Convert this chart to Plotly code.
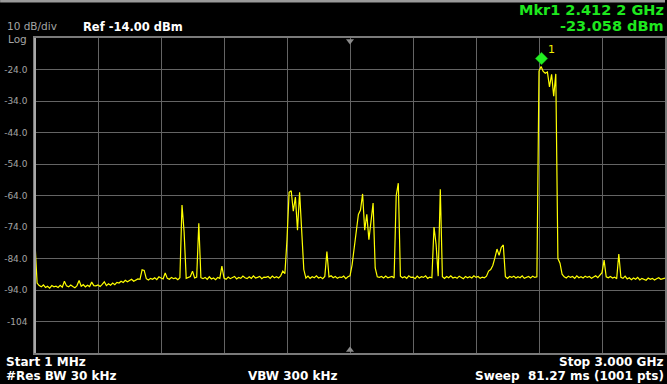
import numpy as np
import plotly.graph_objects as go

# ---------------- data ----------------
start_mhz = 1.0
stop_mhz = 3000.0
ref_level_dbm = -14.0
db_per_div = 10.0
n_div = 10

# trace levels (dBm), 301 points evenly spaced from 1 MHz to 3000 MHz (rows = 100 MHz)
level_dbm = [
    -79.0, -91.8, -92.6, -93.0, -92.4, -93.2, -92.8, -93.4, -92.6, -93.0,
    -92.8, -93.2, -92.5, -93.1, -91.2, -92.7, -93.0, -92.4, -92.9, -93.3,
    -92.6, -91.0, -92.8, -92.3, -93.0, -92.5, -92.9, -91.5, -92.6, -92.7,
    -92.4, -92.9, -92.2, -91.4, -92.6, -92.0, -92.5, -91.8, -92.3, -91.6,
    -91.8, -91.2, -91.6, -90.9, -91.4, -91.0, -90.6, -91.2, -90.8, -90.5,
    -90.6, -87.6, -87.8, -90.4, -90.8, -90.3, -90.6, -90.1, -90.7, -89.8,
    -90.2, -90.5, -88.6, -90.3, -90.6, -90.0, -90.4, -90.2, -90.7, -90.1,
    -67.0, -75.5, -90.3, -90.0, -89.7, -88.0, -90.2, -89.9, -72.8, -90.1,
    -90.4, -90.0, -90.6, -89.8, -90.5, -90.2, -90.7, -90.0, -90.3, -86.4,
    -90.2, -90.6, -89.9, -90.4, -90.1, -89.7, -90.5, -90.0, -90.3, -89.6,
    -90.1, -90.4, -89.8, -90.3, -89.5, -90.2, -90.0, -89.7, -90.4, -89.9,
    -90.0, -89.7, -90.3, -89.6, -90.1, -89.8, -90.2, -89.5, -88.0, -88.8,
    -78.0, -63.0, -62.5, -69.0, -64.5, -75.0, -63.0, -76.0, -87.5, -90.2,
    -89.6, -90.3, -89.8, -90.1, -89.5, -90.2, -89.9, -90.4, -89.7, -81.8,
    -89.8, -89.5, -90.1, -89.7, -90.3, -89.9, -90.0, -89.6, -90.4, -89.8,
    -89.5, -86.0, -80.0, -76.0, -70.0, -68.6, -63.5, -75.0, -70.0, -78.0,
    -71.0, -66.4, -87.0, -89.8, -90.0, -89.7, -90.2, -89.6, -90.1, -89.9,
    -89.7, -90.2, -64.0, -60.1, -89.6, -90.1, -89.8, -90.3, -89.5, -90.0,
    -89.9, -90.4, -89.6, -90.2, -89.8, -90.0, -89.5, -90.3, -89.9, -90.1,
    -74.0, -79.5, -89.6, -62.0, -89.8, -90.3, -89.7, -90.1, -89.5, -90.2,
    -89.9, -90.3, -89.6, -90.0, -90.4, -89.7, -90.1, -89.8, -90.2, -89.5,
    -90.0, -89.7, -90.3, -89.9, -90.1, -89.6, -88.0, -87.5, -86.2, -83.8,
    -81.0, -83.0, -80.5, -79.7, -89.8, -90.3, -89.7, -90.0, -89.6, -90.2,
    -89.8, -90.1, -89.5, -90.3, -89.9, -89.7, -90.2, -89.6, -90.0, -89.8,
    -24.5, -23.06, -24.6, -25.2, -24.8, -29.5, -25.5, -32.5, -25.4, -84.0,
    -85.5, -89.0, -89.8, -90.2, -89.6, -90.0, -89.7, -90.3, -89.5, -90.1,
    -89.8, -90.2, -89.6, -90.0, -89.7, -90.3, -89.9, -89.5, -90.1, -89.2,
    -88.5, -84.5, -89.8, -90.1, -89.7, -90.2, -89.9, -90.4, -82.6, -90.0,
    -90.3, -89.6, -90.5, -90.1, -90.7, -90.2, -90.6, -90.0, -90.8, -90.3,
    -90.5, -90.9, -90.2, -90.6, -90.3, -90.8, -90.4, -90.1, -90.6, -90.3,
    -90.2,
]
freq_mhz = np.linspace(start_mhz, stop_mhz, len(level_dbm))

marker_freq_mhz = 2412.2
marker_level_dbm = -23.058

y_tick_vals = [-24, -34, -44, -54, -64, -74, -84, -94, -104]
y_tick_text = ["-24.0", "-34.0", "-44.0", "-54.0", "-64.0", "-74.0", "-84.0", "-94.0", "-104"]

# ---------------- layout geometry ----------------
W, H = 667, 384
L, R, T, B = 35, 0, 38, 31
plot_w = W - L - R
plot_h = H - T - B
y_min = ref_level_dbm - db_per_div * n_div
px_per_db = plot_h / (db_per_div * n_div)
center_mhz = (start_mhz + stop_mhz) / 2
span_div = (stop_mhz - start_mhz) / n_div


def pxx(x):
    return (x - L) / plot_w


def pxy(y):
    return (H - B - y) / plot_h


GRID = "#646464"
GRAY_TXT = "#a4a4a4"
GREEN = "#1ee81e"
FONT = "DejaVu Sans"

fig = go.Figure()

fig.add_trace(go.Scatter(
    x=freq_mhz, y=level_dbm, mode="lines",
    line=dict(color="#ffff00", width=1.2),
    hoverinfo="skip", showlegend=False,
))

# center-frequency triangles (top & bottom)
fig.add_trace(go.Scatter(
    x=[center_mhz, center_mhz],
    y=[ref_level_dbm - 3 / px_per_db, y_min + 3 / px_per_db],
    mode="markers",
    marker=dict(symbol=["triangle-down", "triangle-up"], size=7, color="#8a8a8a"),
    hoverinfo="skip", showlegend=False, cliponaxis=False,
))

# marker diamond sitting on the trace point
fig.add_trace(go.Scatter(
    x=[marker_freq_mhz], y=[marker_level_dbm + 8 / px_per_db],
    mode="markers",
    marker=dict(symbol="diamond", size=9.5, color="#22ee22",
                line=dict(color="#11aa11", width=0.5)),
    hoverinfo="skip", showlegend=False, cliponaxis=False,
))

annotations = [
    dict(x=marker_freq_mhz, y=marker_level_dbm, xref="x", yref="y", text="1",
         showarrow=False, xshift=10, yshift=17, font=dict(family=FONT, size=11, color="#f0f000")),
    dict(x=pxx(5), y=pxy(26), text="10 dB/div", xanchor="left", yanchor="middle",
         font=dict(family=FONT, size=10.5, color=GRAY_TXT)),
    dict(x=pxx(6), y=pxy(38.5), text="Log", xanchor="left", yanchor="middle",
         font=dict(family=FONT, size=10.5, color=GRAY_TXT)),
    dict(x=pxx(81), y=pxy(27.5), text="<b>Ref -14.00 dBm</b>", xanchor="left", yanchor="middle",
         font=dict(family=FONT, size=11.5, color="#ffffff")),
    dict(x=pxx(668), y=pxy(9.5), text="<b>Mkr1 2.412 2 GHz</b>", xanchor="right", yanchor="middle",
         font=dict(family=FONT, size=14.5, color=GREEN)),
    dict(x=pxx(668), y=pxy(26.5), text="<b>-23.058 dBm</b>", xanchor="right", yanchor="middle",
         font=dict(family=FONT, size=14.5, color=GREEN)),
    dict(x=pxx(4), y=pxy(362), text="<b>Start 1 MHz</b>", xanchor="left", yanchor="middle",
         font=dict(family=FONT, size=12, color="#ffffff")),
    dict(x=pxx(4), y=pxy(375.5), text="<b>#Res BW 30 kHz</b>", xanchor="left", yanchor="middle",
         font=dict(family=FONT, size=12, color="#ffffff")),
    dict(x=pxx(293.5), y=pxy(375.5), text="<b>VBW 300 kHz</b>", xanchor="center", yanchor="middle",
         font=dict(family=FONT, size=12, color="#ffffff")),
    dict(x=pxx(667), y=pxy(362), text="<b>Stop 3.000 GHz</b>", xanchor="right", yanchor="middle",
         font=dict(family=FONT, size=12, color="#ffffff")),
    dict(x=pxx(668), y=pxy(375.5), text="<b>Sweep\u00a0 81.27 ms (1001 pts)</b>", xanchor="right", yanchor="middle",
         font=dict(family=FONT, size=12, color="#ffffff")),
]
for a in annotations:
    a.setdefault("xref", "paper")
    a.setdefault("yref", "paper")
    a.setdefault("showarrow", False)

shapes = [
    # thin light strip along the very top of the screen
    dict(type="rect", xref="paper", yref="paper", x0=pxx(0), x1=pxx(W), y0=pxy(2.5), y1=pxy(0),
         fillcolor="#9a9a9a", line=dict(width=0), layer="above"),
    # bright left frame line
    dict(type="line", xref="paper", yref="paper", x0=0, x1=0, y0=0, y1=1,
         line=dict(color="#a8a8a8", width=2), layer="above"),
]

fig.update_layout(
    width=W, height=H,
    margin=dict(l=L, r=R, t=T, b=B, pad=0),
    paper_bgcolor="#000000", plot_bgcolor="#000000",
    showlegend=False, hovermode=False,
    annotations=annotations, shapes=shapes,
    xaxis=dict(range=[start_mhz, stop_mhz], tick0=start_mhz, dtick=span_div,
               showticklabels=False, ticks="", showgrid=True, gridcolor=GRID, gridwidth=1.3,
               zeroline=False, showline=True, linecolor="#7a7a7a", linewidth=1.5, mirror=True,
               fixedrange=True),
    yaxis=dict(range=[y_min, ref_level_dbm], tickvals=y_tick_vals, ticktext=y_tick_text,
               ticks="", ticklabelstandoff=4,
               tickfont=dict(family=FONT, size=9, color=GRAY_TXT),
               showgrid=True, gridcolor=GRID, gridwidth=1.3, zeroline=False,
               showline=True, linecolor="#7a7a7a", linewidth=1.5, mirror=True,
               fixedrange=True),
)

fig.write_html("out.html", config={"displayModeBar": False})
